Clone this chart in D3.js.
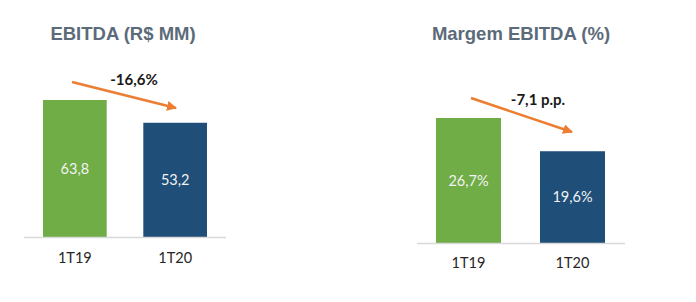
<!DOCTYPE html>
<html>
<head>
<meta charset="utf-8">
<script src="https://cdn.jsdelivr.net/npm/d3@7"></script>
<style>
  body { margin: 0; background: #fff; }
  svg { display: block; }
</style>
</head>
<body>
<svg id="chart" width="696" height="302"></svg>
<script>
// data
const categories = ['1T19', '1T20'];
const ebitdaValues = [63.8, 53.2];
const ebitdaLabels = ['63,8', '53,2'];
const marginValues = [26.7, 19.6];
const marginLabels = ['26,7%', '19,6%'];
const titles = ['EBITDA (R$ MM)', 'Margem EBITDA (%)'];
const changeLabels = ['-16,6%', '-7,1 p.p.'];

const colors = ['#70AD47', '#1F4E79'];
const svg = d3.select('#chart');

svg.append('defs')
  .append('marker')
  .attr('id', 'arrowhead')
  .attr('viewBox', '0 0 10 10')
  .attr('refX', 9)
  .attr('refY', 5)
  .attr('markerWidth', 4)
  .attr('markerHeight', 4)
  .attr('orient', 'auto')
  .append('path')
  .attr('d', 'M0,0 L10,5 L0,10 z')
  .attr('fill', '#ED7D31');

// each panel: bar span, baseline span, where the value axis top lands, arrow ends
const panels = [
  {
    title: titles[0], titleX: 123, values: ebitdaValues, labels: ebitdaLabels,
    b0: 43, b1: 207, pad: 0.365,
    x0: 24, x1: 226, base: 237, topVal: 63.8, topY: 100,
    arrow: [[72, 82], [176, 108]], change: changeLabels[0], changeX: 134, changeY: 80,
    catY: 258
  },
  {
    title: titles[1], titleX: 521, values: marginValues, labels: marginLabels,
    b0: 436, b1: 605, pad: 0.375,
    x0: 417, x1: 625, base: 243, topVal: 26.7, topY: 118,
    arrow: [[471, 98], [572, 132]], change: changeLabels[1], changeX: 538, changeY: 100,
    catY: 263
  }
];

panels.forEach((p) => {
  const x = d3.scaleBand().domain(categories).range([p.b0, p.b1]).paddingInner(p.pad).paddingOuter(0);
  const y = d3.scaleLinear().domain([0, p.topVal]).range([p.base, p.topY]);
  const g = svg.append('g');

  g.append('text')
    .attr('x', p.titleX)
    .attr('y', 40)
    .attr('text-anchor', 'middle')
    .attr('font-family', 'Liberation Sans, Arial, sans-serif')
    .attr('font-weight', 'bold')
    .attr('font-size', 18.5)
    .attr('fill', '#5B6B7A')
    .text(p.title);

  g.selectAll('rect')
    .data(p.values)
    .join('rect')
    .attr('x', (d, i) => x(categories[i]))
    .attr('y', (d) => y(d))
    .attr('width', x.bandwidth())
    .attr('height', (d) => y(0) - y(d))
    .attr('fill', (d, i) => colors[i]);

  g.append('line')
    .attr('x1', p.x0)
    .attr('x2', p.x1)
    .attr('y1', p.base + 0.5)
    .attr('y2', p.base + 0.5)
    .attr('stroke', '#D9D9D9')
    .attr('stroke-width', 1.5);

  g.selectAll('text.val')
    .data(p.values)
    .join('text')
    .attr('class', 'val')
    .attr('x', (d, i) => x(categories[i]) + x.bandwidth() / 2)
    .attr('y', (d) => (y(d) + y(0)) / 2 + 5)
    .attr('text-anchor', 'middle')
    .attr('font-family', 'Lato, Open Sans, sans-serif')
    .attr('font-size', 14.5)
    .attr('fill', '#F2F2F2')
    .text((d, i) => p.labels[i]);

  g.selectAll('text.cat')
    .data(categories)
    .join('text')
    .attr('class', 'cat')
    .attr('x', (d) => x(d) + x.bandwidth() / 2)
    .attr('y', p.catY + 5)
    .attr('text-anchor', 'middle')
    .attr('font-family', 'Lato, Open Sans, sans-serif')
    .attr('font-size', 14.5)
    .attr('fill', '#262626')
    .text((d) => d);

  g.append('line')
    .attr('x1', p.arrow[0][0])
    .attr('y1', p.arrow[0][1])
    .attr('x2', p.arrow[1][0])
    .attr('y2', p.arrow[1][1])
    .attr('stroke', '#ED7D31')
    .attr('stroke-width', 2.5)
    .attr('marker-end', 'url(#arrowhead)');

  g.append('text')
    .attr('x', p.changeX)
    .attr('y', p.changeY + 5)
    .attr('text-anchor', 'middle')
    .attr('font-family', 'Lato, Open Sans, sans-serif')
    .attr('font-weight', 'bold')
    .attr('font-size', 15)
    .attr('fill', '#1a1a1a')
    .text(p.change);
});
</script>
</body>
</html>
